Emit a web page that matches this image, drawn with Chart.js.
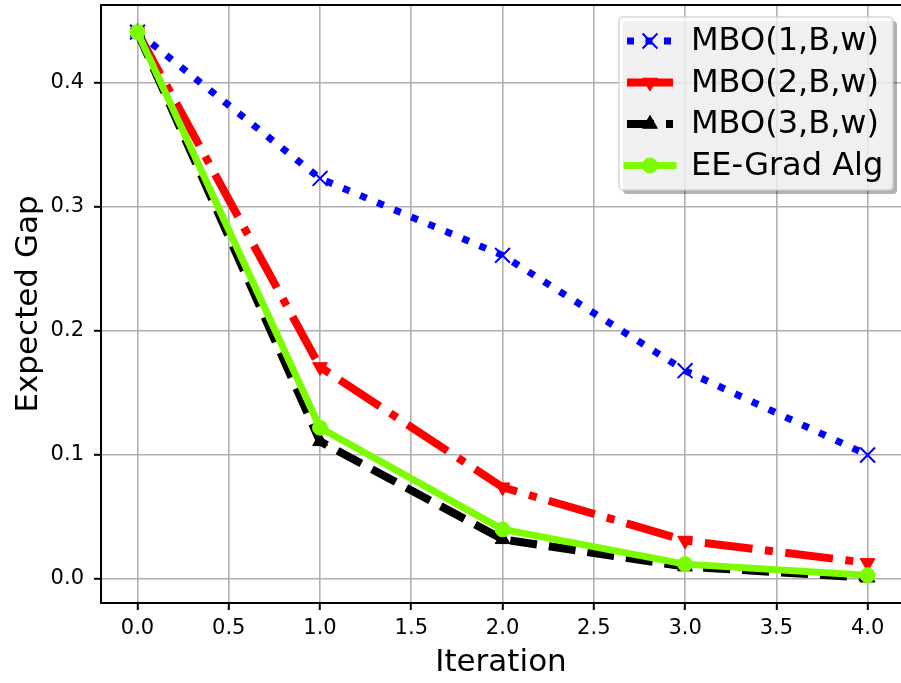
<!DOCTYPE html>
<html>
<head>
<meta charset="utf-8">
<script src="https://cdn.jsdelivr.net/npm/chart.js@4.4.0/dist/chart.umd.min.js"></script>
<style>
  html, body { margin: 0; padding: 0; background: #fff; }
  #wrap { width: 901px; height: 683px; }
</style>
</head>
<body>
<div id="wrap"><canvas id="gapChart"></canvas></div>
<script>
let iterations = [0, 1, 2, 3, 4];
let mbo1 = [0.441, 0.323, 0.261, 0.168, 0.100];
let mbo2 = [0.441, 0.171, 0.074, 0.031, 0.013];
let mbo3 = [0.441, 0.111, 0.032, 0.010, 0.001];
let eeGrad = [0.441, 0.122, 0.040, 0.012, 0.003];
let seriesNames = ['MBO(1,B,w)', 'MBO(2,B,w)', 'MBO(3,B,w)', 'EE-Grad Alg'];
let xTicks = [0, 0.5, 1, 1.5, 2, 2.5, 3, 3.5, 4];
let yTicks = [0, 0.1, 0.2, 0.3, 0.4];

Chart.defaults.font.family = "'DejaVu Sans', sans-serif";
Chart.defaults.color = '#000';

function toPoints(ys) {
    return iterations.map((x, i) => ({x: x, y: ys[i]}));
}

// frame line on top + matplotlib-style legend with line/marker handles
const frameAndLegend = {
    id: 'frameAndLegend',
    afterDraw(chart) {
        const ctx = chart.ctx;
        const area = chart.chartArea;
        ctx.save();
        ctx.strokeStyle = '#000';
        ctx.lineWidth = 2;
        ctx.beginPath();
        ctx.moveTo(area.left - 1, area.top);
        ctx.lineTo(area.right, area.top);
        ctx.stroke();

        // legend frame + shadow
        const bx = 619, by = 17, bw = 274, bh = 173;
        ctx.fillStyle = 'rgba(0,0,0,0.3)';
        ctx.beginPath();
        ctx.roundRect(bx + 4, by + 4, bw, bh, 4);
        ctx.fill();
        ctx.fillStyle = 'rgba(255,255,255,0.8)';
        ctx.strokeStyle = 'rgba(204,204,204,0.8)';
        ctx.lineWidth = 1.5;
        ctx.beginPath();
        ctx.roundRect(bx, by, bw, bh, 4);
        ctx.fill();
        ctx.stroke();

        chart.data.datasets.forEach((ds, i) => {
            const y = 41 + i * 41.5;
            ctx.strokeStyle = ds.borderColor;
            ctx.lineWidth = ds.borderWidth;
            ctx.lineCap = ds.borderCapStyle;
            ctx.setLineDash(ds.borderDash || []);
            ctx.lineDashOffset = 0;
            ctx.beginPath();
            ctx.moveTo(627, y);
            ctx.lineTo(673, y);
            ctx.stroke();
            ctx.setLineDash([]);
            ctx.lineCap = 'butt';
            ctx.fillStyle = ds.pointBackgroundColor;
            ctx.strokeStyle = ds.pointBorderColor;
            ctx.lineWidth = ds.pointBorderWidth;
            Chart.helpers.drawPoint(ctx, {
                pointStyle: ds.pointStyle,
                rotation: ds.pointRotation || 0,
                radius: ds.pointRadius,
                borderWidth: ds.pointBorderWidth
            }, 650, y);
            ctx.fillStyle = '#000';
            ctx.font = "32px 'DejaVu Sans'";
            ctx.textAlign = 'left';
            ctx.textBaseline = 'middle';
            ctx.fillText(ds.label, 691, y + 1);
        });
        ctx.restore();
    }
};

// keep the plot box fixed: no extra room reserved for edge tick labels
function fixX(s) {
    s.height = 80;
    s.paddingLeft = 0;
    s.paddingRight = 0;
}
function fixY(s) {
    s.width = 101;
    s.paddingTop = 0;
    s.paddingBottom = 0;
}

new Chart(document.getElementById('gapChart'), {
    type: 'line',
    data: {
        datasets: [
            {
                label: seriesNames[0],
                data: toPoints(mbo1),
                borderColor: '#0000ff',
                borderWidth: 7,
                borderDash: [7, 11.5],
                borderCapStyle: 'butt',
                borderJoinStyle: 'round',
                pointStyle: 'crossRot',
                pointRadius: 10.5,
                pointBorderWidth: 2,
                pointBorderColor: '#0000ff',
                pointBackgroundColor: '#0000ff',
                order: 4
            },
            {
                label: seriesNames[1],
                data: toPoints(mbo2),
                borderColor: '#ff0000',
                borderWidth: 8,
                borderDash: [48, 12.5, 8, 12.5],
                borderCapStyle: 'butt',
                borderJoinStyle: 'round',
                pointStyle: 'triangle',
                pointRotation: 180,
                pointRadius: 8.5,
                pointBorderWidth: 1,
                pointBorderColor: '#ff0000',
                pointBackgroundColor: '#ff0000',
                order: 3
            },
            {
                label: seriesNames[2],
                data: toPoints(mbo3),
                borderColor: '#000000',
                borderWidth: 8,
                borderDash: [27, 12],
                borderCapStyle: 'butt',
                borderJoinStyle: 'round',
                pointStyle: 'triangle',
                pointRadius: 8.5,
                pointBorderWidth: 1,
                pointBorderColor: '#000000',
                pointBackgroundColor: '#000000',
                order: 2
            },
            {
                label: seriesNames[3],
                data: toPoints(eeGrad),
                borderColor: '#7cfc00',
                borderWidth: 7,
                borderCapStyle: 'square',
                borderJoinStyle: 'round',
                pointStyle: 'circle',
                pointRadius: 7.5,
                pointBorderWidth: 1,
                pointBorderColor: '#7cfc00',
                pointBackgroundColor: '#7cfc00',
                order: 1
            }
        ]
    },
    options: {
        responsive: true,
        maintainAspectRatio: false,
        animation: false,
        layout: { autoPadding: false, padding: { top: 5, right: 0, bottom: 0, left: 0 } },
        plugins: {
            legend: { display: false },
            tooltip: { enabled: false }
        },
        scales: {
            x: {
                type: 'linear',
                min: -0.2,
                max: 4.183,
                afterBuildTicks: s => { s.ticks = xTicks.map(v => ({value: v})); },
                afterFit: fixX,
                ticks: {
                    callback: v => v.toFixed(1),
                    font: { size: 21 },
                    color: '#000',
                    padding: 6,
                    maxRotation: 0,
                    autoSkip: false
                },
                grid: { color: '#b0b0b0', lineWidth: 1.6, tickColor: '#000', tickWidth: 2, tickLength: 7 },
                border: { color: '#000', width: 2 },
                title: {
                    display: true,
                    text: 'Iteration',
                    font: { size: 31 },
                    color: '#000',
                    padding: { top: 4, bottom: 1 }
                }
            },
            y: {
                type: 'linear',
                min: -0.01935,
                max: 0.4629,
                afterBuildTicks: s => { s.ticks = yTicks.map(v => ({value: v})); },
                afterFit: fixY,
                ticks: {
                    callback: v => v.toFixed(1),
                    font: { size: 21 },
                    color: '#000',
                    padding: 10
                },
                grid: { color: '#b0b0b0', lineWidth: 1.6, tickColor: '#000', tickWidth: 2, tickLength: 7 },
                border: { color: '#000', width: 2 },
                title: {
                    display: true,
                    text: 'Expected Gap',
                    font: { size: 31 },
                    color: '#000',
                    padding: { top: 10, bottom: 4 }
                }
            }
        }
    },
    plugins: [frameAndLegend]
});
</script>
</body>
</html>
